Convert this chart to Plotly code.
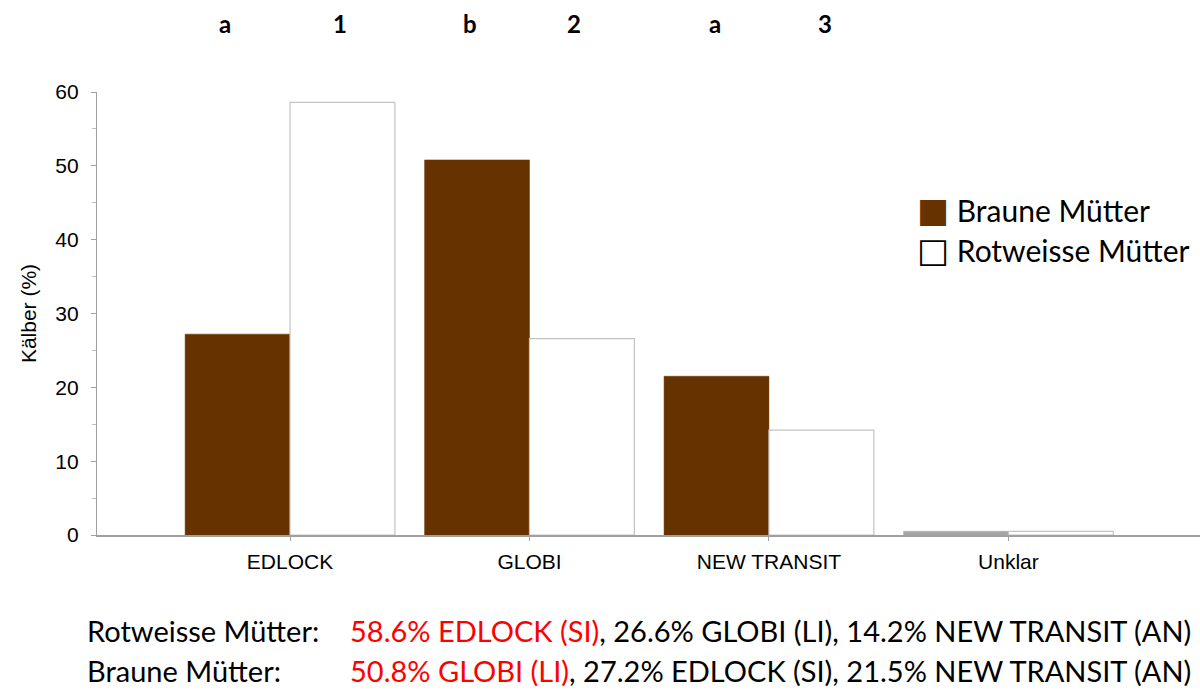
import plotly.graph_objects as go

categories = ["EDLOCK", "GLOBI", "NEW TRANSIT", "Unklar"]
braune = [27.2, 50.8, 21.5, 0.5]
rotweisse = [58.6, 26.6, 14.2, 0.5]
letters_braune = ["a", "b", "a"]
letters_rot = ["1", "2", "3"]
y_ticks = [0, 10, 20, 30, 40, 50, 60]

BROWN = "#663300"
GRAY = "#a6a6a6"
bw = 0.438

# horizontal placement of the significance letters relative to each category
shift_braune = [-0.271, -0.248, -0.225]
shift_rot = [0.209, 0.186, 0.234]

braune_colors = [BROWN, BROWN, BROWN, GRAY]

fig = go.Figure()
fig.add_trace(go.Bar(
    x=categories, y=braune, name="Braune Mütter",
    width=bw, offset=-bw,
    marker=dict(color=braune_colors, line=dict(color=braune_colors, width=0.5)),
    showlegend=False,
))
fig.add_trace(go.Bar(
    x=categories, y=rotweisse, name="Rotweisse Mütter",
    width=bw, offset=0,
    marker=dict(color="white", line=dict(color="#c4c4c4", width=1.2)),
    showlegend=False,
))

letter_font = dict(family="Lato, Open Sans", size=24, color="black")
annotations = []
for i, t in enumerate(letters_braune):
    annotations.append(dict(x=i + shift_braune[i], y=1.0, xref="x", yref="paper",
                            yshift=52, text=f"<b>{t}</b>", showarrow=False,
                            font=letter_font, yanchor="bottom"))
for i, t in enumerate(letters_rot):
    annotations.append(dict(x=i + shift_rot[i], y=1.0, xref="x", yref="paper",
                            yshift=52, text=f"<b>{t}</b>", showarrow=False,
                            font=letter_font, yanchor="bottom"))

legend_font = dict(family="Lato, Open Sans", size=30, color="black")
sq = "<span style='font-family:DejaVu Sans;font-size:34px;color:{c}'>{g}</span>"
annotations.append(dict(x=915, y=210, xref="paper", yref="paper",
                        text=sq.format(c=BROWN, g="■") + " Braune Mütter",
                        showarrow=False, font=legend_font, xanchor="left", yanchor="middle"))
annotations.append(dict(x=915, y=250, xref="paper", yref="paper",
                        text=sq.format(c="black", g="□") + " Rotweisse Mütter",
                        showarrow=False, font=legend_font, xanchor="left", yanchor="middle"))

bottom_font = dict(family="Lato, Open Sans", size=29, color="black")
annotations.append(dict(x=85, y=630, xref="paper", yref="paper",
                        text="Rotweisse Mütter:", showarrow=False, font=bottom_font,
                        xanchor="left", yanchor="middle"))
annotations.append(dict(x=348, y=630, xref="paper", yref="paper",
                        text="<span style='color:#ff0000'>58.6% EDLOCK (SI)</span>, 26.6% GLOBI (LI), 14.2% NEW TRANSIT (AN)",
                        showarrow=False, font=bottom_font, xanchor="left", yanchor="middle"))
annotations.append(dict(x=85, y=670, xref="paper", yref="paper",
                        text="Braune Mütter:", showarrow=False, font=bottom_font,
                        xanchor="left", yanchor="middle"))
annotations.append(dict(x=348, y=670, xref="paper", yref="paper",
                        text="<span style='color:#ff0000'>50.8% GLOBI (LI)</span>, 27.2% EDLOCK (SI), 21.5% NEW TRANSIT (AN)",
                        showarrow=False, font=bottom_font, xanchor="left", yanchor="middle"))

# convert pixel positions of the legend/bottom annotations to paper coords
L, R, T, B = 97, 0, 92, 158
W, H = 1200, 693
pw, ph = W - L - R, H - T - B
for a in annotations:
    if a["xref"] == "paper" and a["x"] > 1.5:
        a["x"] = (a["x"] - L) / pw
        a["y"] = 1 - (a["y"] - T) / ph

tick_font = dict(family="Liberation Sans, Arial", size=21, color="black")

fig.update_layout(
    width=W, height=H,
    margin=dict(l=L, r=R, t=T, b=B),
    paper_bgcolor="white", plot_bgcolor="white",
    barmode="overlay",
    annotations=annotations,
    font=dict(family="Liberation Sans, Arial", size=21, color="black"),
    xaxis=dict(
        range=[-0.806, 3.8],
        showline=True, linecolor="#a0a0a0", linewidth=1.5,
        ticks="outside", ticklen=4, tickcolor="#a0a0a0",
        ticklabelstandoff=3,
        showgrid=False, zeroline=False,
        tickfont=tick_font,
    ),
    yaxis=dict(
        range=[0, 60], tickvals=y_ticks,
        showline=True, linecolor="#a0a0a0", linewidth=1.2,
        ticks="outside", ticklen=5, tickcolor="#a0a0a0",
        ticklabelstandoff=8,
        minor=dict(dtick=5, ticks="outside", ticklen=4, tickcolor="#c0c0c0"),
        showgrid=False, zeroline=False,
        tickfont=tick_font,
        title=dict(text="Kälber (%)", font=dict(family="Liberation Sans, Arial", size=21), standoff=12),
    ),
)

fig.write_html("out.html", config={"displayModeBar": False},
               post_script="document.body.style.margin='0';document.body.style.overflow='hidden';")
